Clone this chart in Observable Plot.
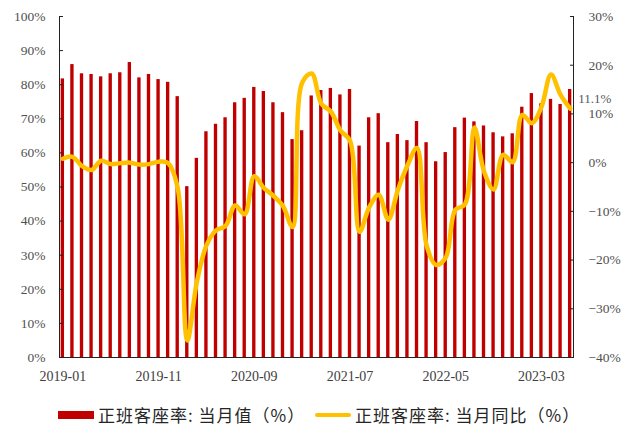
<!DOCTYPE html>
<html>
<head>
<meta charset="utf-8">
<script src="https://cdn.jsdelivr.net/npm/d3@7"></script>
<script src="https://cdn.jsdelivr.net/npm/@observablehq/plot@0.6"></script>
<style>
  html, body { margin: 0; padding: 0; background: #fff; }
  #wrap { position: relative; width: 630px; height: 430px; }
  #wrap svg { position: absolute; left: 0; top: 0; }
  .leg { position: absolute; top: 402px; display: flex; align-items: center;
         font-family: "Noto Sans CJK SC", sans-serif; font-size: 17px; letter-spacing: 1px; color: #262626; white-space: nowrap; }
  .sw { display: inline-block; width: 36px; margin-right: 4px; }
</style>
</head>
<body>
<div id="wrap"></div>
<script>
const months = [
  "2019-01","2019-02","2019-03","2019-04","2019-05","2019-06","2019-07","2019-08","2019-09","2019-10","2019-11","2019-12",
  "2020-01","2020-02","2020-03","2020-04","2020-05","2020-06","2020-07","2020-08","2020-09","2020-10","2020-11","2020-12",
  "2021-01","2021-02","2021-03","2021-04","2021-05","2021-06","2021-07","2021-08","2021-09","2021-10","2021-11","2021-12",
  "2022-01","2022-02","2022-03","2022-04","2022-05","2022-06","2022-07","2022-08","2022-09","2022-10","2022-11","2022-12",
  "2023-01","2023-02","2023-03","2023-04","2023-05","2023-06"
];
// 正班客座率: 当月值 (%)
const loadFactor = [
  81.7, 85.9, 83.2, 83.0, 82.3, 83.2, 83.5, 86.5, 82.0, 83.0, 81.5, 80.7,
  76.5, 50.1, 58.4, 66.2, 68.4, 70.3, 74.7, 76.0, 79.2, 78.0, 74.7, 71.8,
  63.9, 66.5, 76.7, 78.3, 78.9, 77.0, 78.6, 62.0, 70.3, 71.5, 63.0, 65.4,
  63.6, 69.2, 63.0, 57.4, 60.1, 67.4, 70.2, 69.1, 67.9, 65.9, 64.7, 65.6,
  73.4, 77.4, 74.4, 75.7, 74.2, 78.6
];
// 正班客座率: 当月同比 (%)
const yoy = [
  0.8, 1.2, -0.7, -1.5, 0.4, -0.3, -0.1, 0.0, -0.4, -0.3, 0.2, -0.1,
  -5.2, -36.5, -24.5, -17.0, -13.9, -13.0, -8.8, -10.6, -2.8, -5.2, -6.8, -8.9,
  -13.2, 16.4, 18.3, 12.1, 10.5, 6.6, 4.5, -14.2, -9.2, -6.6, -11.7, -5.6,
  -0.6, 3.0, -17.0, -21.0, -19.5, -9.7, -8.6, 7.2, -1.8, -5.5, 1.6, 0.1,
  9.8, 8.1, 11.4, 18.1, 13.9, 11.1
];
const xTicks = ["2019-01","2019-11","2020-09","2021-07","2022-05","2023-03"];
const leftTicks = [0, 10, 20, 30, 40, 50, 60, 70, 80, 90, 100];
const rightTicks = [-40, -30, -20, -10, 0, 10, 20, 30];
const seriesNames = ["正班客座率: 当月值（%）", "正班客座率: 当月同比（%）"];
const colors = ["#C00000", "#FFC000"];

const data = months.map((m, i) => ({month: m, value: loadFactor[i], yoy: yoy[i]}));

const W = 630, H = 392;
const common = {
  width: W, height: H, marginTop: 16, marginBottom: 35, marginLeft: 59, marginRight: 57,
  style: {fontFamily: "'Liberation Serif', 'Times New Roman', serif", fontSize: "13px", color: "#595959", background: "transparent", overflow: "visible"}
};
const xScale = {type: "band", domain: months, paddingInner: 0.65, paddingOuter: 0.175};
const pct = d => (d < 0 ? "\u2212" : "") + Math.abs(d) + "%";

const bars = Plot.plot({
  ...common,
  x: xScale,
  y: {domain: [0, 100]},
  marks: [
    Plot.barY(data, {x: "month", y: "value", fill: colors[0]}),
    Plot.axisY({anchor: "left", ticks: leftTicks, tickSize: 0, tickPadding: 14, tickFormat: pct, label: null, fill: "#505050", fontSize: 13.5}),
    Plot.axisY({anchor: "left", ticks: leftTicks, tickSize: 4, dx: 4, tickFormat: () => "", label: null, stroke: "#222"}),
    Plot.frame({anchor: "left", stroke: "#222"}),
    Plot.axisX({ticks: xTicks, tickSize: 0, tickPadding: 14, label: null, fontSize: 14, fill: "#404040", style: {letterSpacing: "1px"}}),
    Plot.ruleY([0], {stroke: "#222", strokeWidth: 1.2})
  ]
});

const lineChart = Plot.plot({
  ...common,
  x: {...xScale, axis: null},
  y: {domain: [-40, 30]},
  marks: [
    Plot.line(data, {x: "month", y: "yoy", stroke: colors[1], strokeWidth: 4.5, curve: "catmull-rom", strokeLinejoin: "round"}),
    Plot.axisY({anchor: "right", ticks: rightTicks, tickSize: 0, tickPadding: 15, tickFormat: pct, label: null, fill: "#505050", fontSize: 13.5}),
    Plot.axisY({anchor: "right", ticks: rightTicks, tickSize: 4, dx: -4, tickFormat: () => "", label: null, stroke: "#222"}),
    Plot.frame({anchor: "right", stroke: "#222"}),
    Plot.text(data.slice(-1), {x: "month", y: "yoy", text: d => d.yoy.toFixed(1) + "%", textAnchor: "start", dx: 8, dy: -10, fill: "#595959", fontSize: 13, style: {letterSpacing: "1px"}})
  ]
});

const wrap = document.getElementById("wrap");
wrap.appendChild(bars);
wrap.appendChild(lineChart);

const legLeft = [58, 315];
seriesNames.forEach((name, i) => {
  const item = document.createElement("div");
  item.className = "leg";
  item.style.left = legLeft[i] + "px";
  const sw = document.createElement("span");
  sw.className = "sw";
  sw.style.height = i === 0 ? "8px" : "4px";
  sw.style.background = colors[i];
  if (i === 1) sw.style.borderRadius = "2px";
  const t = document.createElement("span");
  t.textContent = name;
  item.appendChild(sw);
  item.appendChild(t);
  wrap.appendChild(item);
});
</script>
</body>
</html>
